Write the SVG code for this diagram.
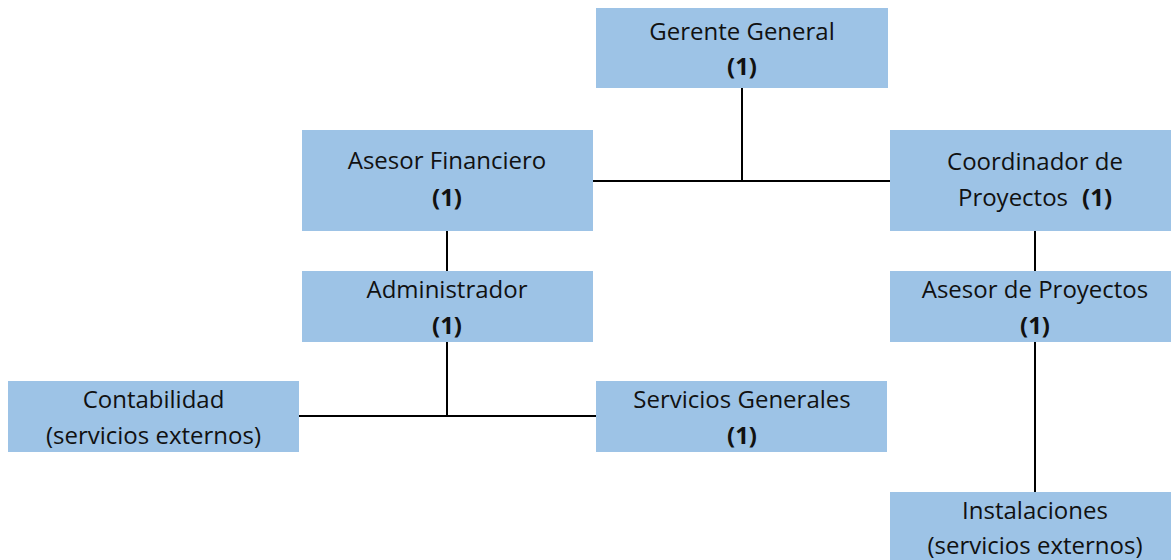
<svg xmlns="http://www.w3.org/2000/svg" width="1171" height="560" viewBox="0 0 1171 560">
  <style>
    .box { fill: #9DC3E6; }
    .lbl { font-family: "Open Sans", "Liberation Sans", sans-serif; font-size: 24px; fill: #111; text-anchor: middle; }
    .b { font-weight: bold; }
    .wire { stroke: #000; stroke-width: 2; fill: none; }
  </style>
  <rect width="1171" height="560" fill="#fff"/>

  <g id="connectors">
    <path class="wire" d="M742 88 V181 M593 181 H890"/>
    <path class="wire" d="M447 231 V271"/>
    <path class="wire" d="M1035 231 V271"/>
    <path class="wire" d="M447 342 V416 M299 416 H596"/>
    <path class="wire" d="M1035 342 V492"/>
  </g>

  <g id="gerente-general">
    <rect class="box" x="596" y="8" width="292" height="80"/>
    <text class="lbl" x="742" y="40">Gerente General</text>
    <text class="lbl b" x="742" y="75">(1)</text>
  </g>

  <g id="asesor-financiero">
    <rect class="box" x="302" y="130" width="291" height="101"/>
    <text class="lbl" x="447" y="169">Asesor Financiero</text>
    <text class="lbl b" x="447" y="206">(1)</text>
  </g>

  <g id="coordinador-proyectos">
    <rect class="box" x="890" y="130" width="291" height="101"/>
    <text class="lbl" x="1035" y="170">Coordinador de</text>
    <text class="lbl" x="1035" y="206">Proyectos<tspan class="b" dx="14">(1)</tspan></text>
  </g>

  <g id="administrador">
    <rect class="box" x="302" y="271" width="291" height="71"/>
    <text class="lbl" x="447" y="298">Administrador</text>
    <text class="lbl b" x="447" y="334">(1)</text>
  </g>

  <g id="asesor-proyectos">
    <rect class="box" x="890" y="271" width="291" height="71"/>
    <text class="lbl" x="1035" y="298">Asesor de Proyectos</text>
    <text class="lbl b" x="1035" y="334">(1)</text>
  </g>

  <g id="contabilidad">
    <rect class="box" x="8" y="381" width="291" height="71"/>
    <text class="lbl" x="153.5" y="408">Contabilidad</text>
    <text class="lbl" x="153.5" y="444">(servicios externos)</text>
  </g>

  <g id="servicios-generales">
    <rect class="box" x="596" y="381" width="291" height="71"/>
    <text class="lbl" x="742" y="408">Servicios Generales</text>
    <text class="lbl b" x="742" y="444">(1)</text>
  </g>

  <g id="instalaciones">
    <rect class="box" x="890" y="492" width="291" height="80"/>
    <text class="lbl" x="1035" y="519">Instalaciones</text>
    <text class="lbl" x="1035" y="554">(servicios externos)</text>
  </g>
</svg>
